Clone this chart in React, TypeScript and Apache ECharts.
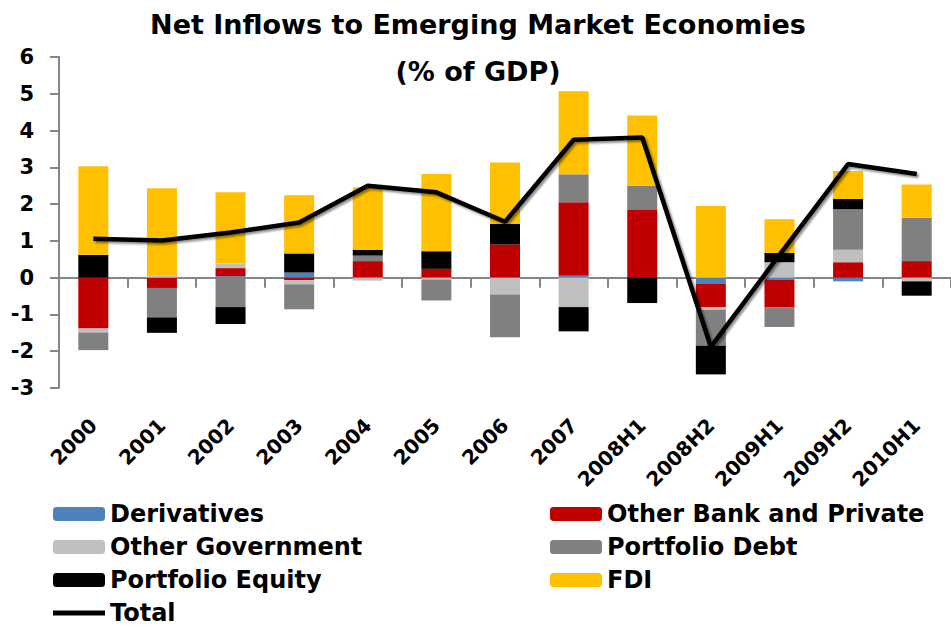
import React, { useEffect, useRef } from "react";
import * as echarts from "echarts";

const categories = ["2000", "2001", "2002", "2003", "2004", "2005", "2006", "2007", "2008H1", "2008H2", "2009H1", "2009H2", "2010H1"];
const derivatives = [0, 0, 0.04, 0.14, 0, 0, 0, 0.05, 0, -0.17, -0.05, -0.1, 0];
const otherBank = [-1.38, -0.28, 0.22, -0.07, 0.45, 0.24, 0.9, 2.0, 1.84, -0.63, -0.75, 0.42, 0.45];
const otherGov = [-0.11, 0.05, 0.13, -0.11, -0.08, -0.05, -0.46, -0.8, 0, -0.07, 0.42, 0.34, -0.1];
const portfolioDebt = [-0.48, -0.8, -0.8, -0.68, 0.15, -0.57, -1.16, 0.76, 0.66, -0.98, -0.54, 1.1, 1.18];
const portfolioEquity = [0.62, -0.42, -0.46, 0.52, 0.16, 0.48, 0.56, -0.66, -0.69, -0.78, 0.25, 0.28, -0.39];
const fdi = [2.41, 2.38, 1.93, 1.58, 1.7, 2.1, 1.67, 2.26, 1.91, 1.95, 0.92, 0.76, 0.9];
const total = [1.06, 1.01, 1.23, 1.5, 2.5, 2.32, 1.52, 3.75, 3.81, -1.88, 0.62, 3.09, 2.82];
const yTicks = { min: -3, max: 6, interval: 1 };

const FONT = "DejaVu Sans";
const AXIS_GRAY = "#868686";

const barSeries = [
  { name: "Derivatives", data: derivatives, color: "#4F81BD" },
  { name: "Other Bank and Private", data: otherBank, color: "#C00000" },
  { name: "Other Government", data: otherGov, color: "#BFBFBF" },
  { name: "Portfolio Debt", data: portfolioDebt, color: "#808080" },
  { name: "Portfolio Equity", data: portfolioEquity, color: "#000000" },
  { name: "FDI", data: fdi, color: "#FFC000" },
];

export default function App() {
  const ref = useRef<HTMLDivElement>(null);
  useEffect(() => {
    if (!ref.current) return;
    const chart = echarts.init(ref.current, undefined, { renderer: "svg" });
    const legendText = { fontFamily: FONT, fontWeight: "bold", fontSize: 24, lineHeight: 24, color: "#000" };
    const lineIcon = "path://M0,0 L52,0 L52,5 L0,5 Z";
    chart.setOption({
      animation: false,
      backgroundColor: "#ffffff",
      title: {
        text: "Net Inflows to Emerging Market Economies\n(% of GDP)",
        left: 478,
        top: 1,
        padding: 0,
        textAlign: "center",
        textStyle: { fontFamily: FONT, fontWeight: "bold", fontSize: 27, lineHeight: 47, color: "#000" },
      },
      grid: { left: 59, top: 57, width: 901, height: 331, containLabel: false },
      xAxis: [
        {
          type: "category",
          data: categories,
          axisLine: { onZero: true, lineStyle: { color: AXIS_GRAY, width: 2 } },
          axisTick: { show: true, length: 10, interval: 0, lineStyle: { color: AXIS_GRAY, width: 2 } },
          axisLabel: { show: false },
          splitLine: { show: false },
        },
        {
          type: "category",
          data: categories,
          position: "bottom",
          axisLine: { show: false, onZero: false },
          axisTick: { show: false },
          axisLabel: {
            interval: 0,
            rotate: 45,
            margin: 34,
            fontFamily: FONT,
            fontWeight: "bold",
            fontSize: 20,
            color: "#000",
          },
        },
      ],
      yAxis: {
        type: "value",
        min: yTicks.min,
        max: yTicks.max,
        interval: yTicks.interval,
        axisLine: { show: true, lineStyle: { color: AXIS_GRAY, width: 2 } },
        axisTick: { show: true, length: 9, lineStyle: { color: AXIS_GRAY, width: 2 } },
        splitLine: { show: false },
        axisLabel: { margin: 25, fontFamily: FONT, fontWeight: "bold", fontSize: 21, color: "#000" },
      },
      legend: [
        {
          data: ["Derivatives", "Other Government", "Portfolio Equity", { name: "Total", icon: lineIcon }],
          orient: "vertical",
          left: 53,
          top: 502,
          padding: 0,
          itemGap: 9,
          itemWidth: 52,
          itemHeight: 14,
          textStyle: legendText,
        },
        {
          data: ["Other Bank and Private", "Portfolio Debt", "FDI"],
          orient: "vertical",
          left: 550,
          top: 502,
          padding: 0,
          itemGap: 9,
          itemWidth: 52,
          itemHeight: 14,
          textStyle: legendText,
        },
      ],
      series: [
        ...barSeries.map((s) => ({
          name: s.name,
          type: "bar",
          stack: "flows",
          data: s.data,
          barWidth: 30,
          itemStyle: { color: s.color },
          xAxisIndex: 0,
        })),
        {
          name: "Total",
          type: "line",
          data: total,
          xAxisIndex: 0,
          symbol: "none",
          showSymbol: false,
          lineStyle: {
            color: "#000",
            width: 4.5,
            shadowColor: "rgba(0,0,0,0.45)",
            shadowBlur: 2,
            shadowOffsetX: 2,
            shadowOffsetY: 2,
          },
          itemStyle: { color: "#000" },
          z: 5,
        },
      ],
    });
    return () => chart.dispose();
  }, []);
  return <div ref={ref} style={{ position: "fixed", left: 0, top: 0, width: 951, height: 631 }} />;
}
